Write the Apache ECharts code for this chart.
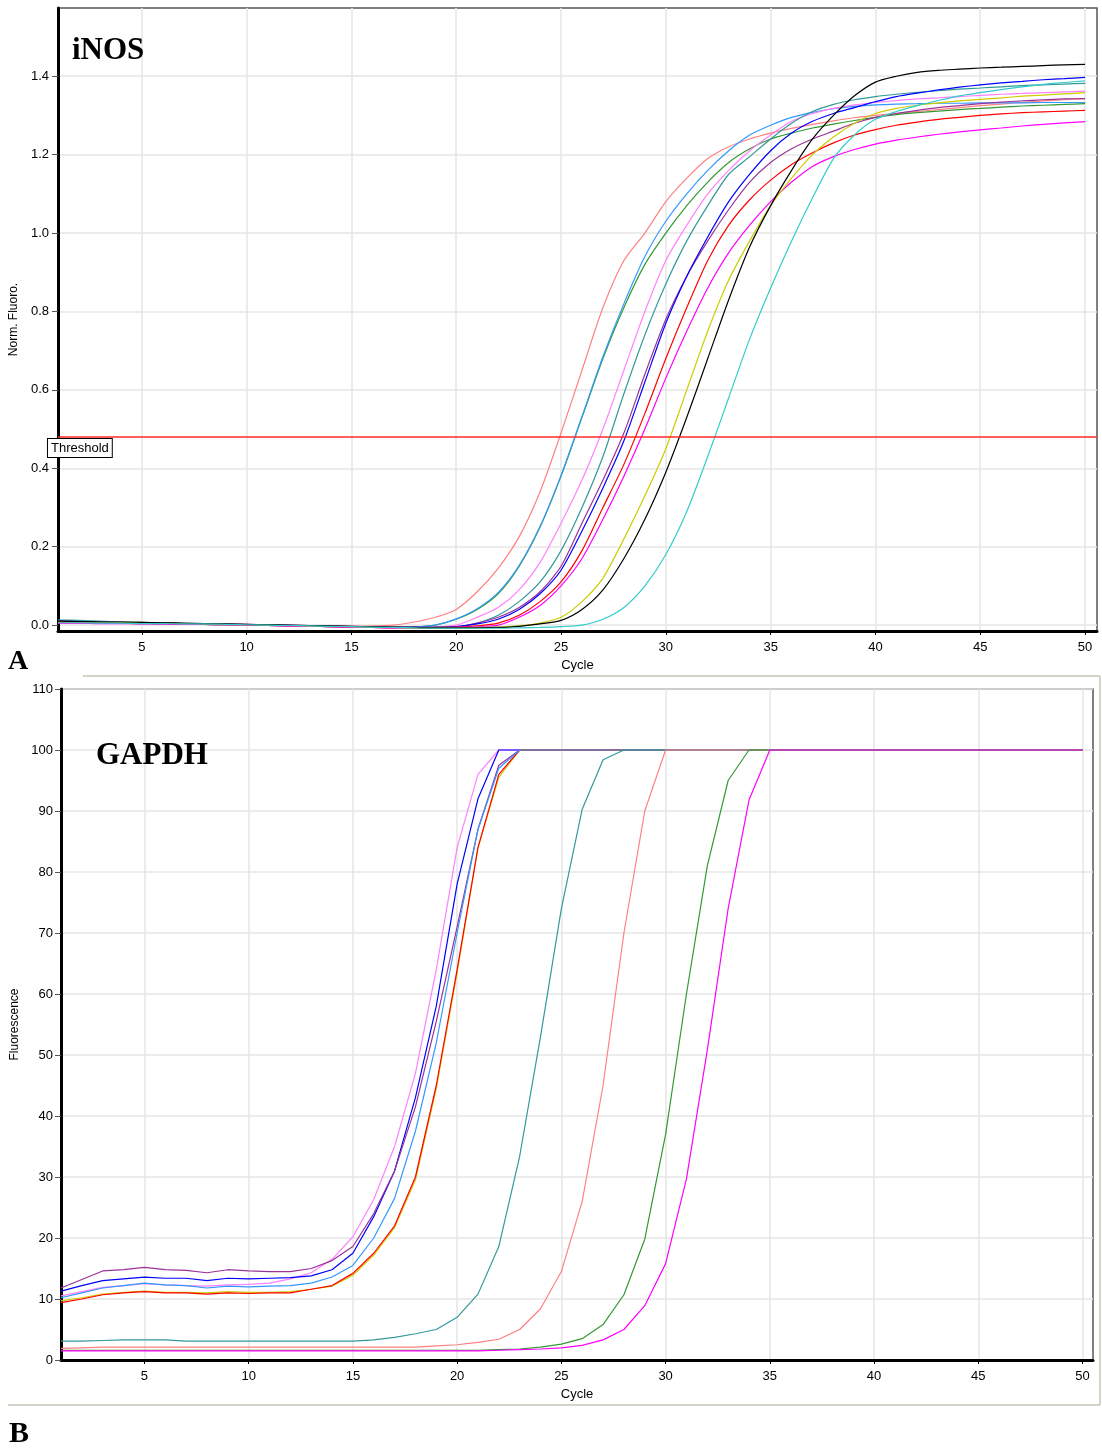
<!DOCTYPE html>
<html>
<head>
<meta charset="utf-8">
<title>iNOS / GAPDH amplification curves</title>
<script src="https://cdn.jsdelivr.net/npm/echarts@6/dist/echarts.min.js"></script>
<style>
  html, body { margin: 0; padding: 0; background: #fff; }
  #chart { width: 1102px; height: 1450px; }
</style>
</head>
<body>
<div id="chart"></div>
<script>
// x: PCR cycle number
const cycles = [1,2,3,4,5,6,7,8,9,10,11,12,13,14,15,16,17,18,19,20,
  21,22,23,24,25,26,27,28,29,30,31,32,33,34,35,36,37,38,39,40,
  41,42,43,44,45,46,47,48,49,50];
const xTicks = [5,10,15,20,25,30,35,40,45,50];
const inosTicks = [0,0.2,0.4,0.6,0.8,1.0,1.2,1.4];
const threshold = 0.48;

// panel A - iNOS, normalised fluorescence per cycle
const inosSalmon = [0.012,0.010,0.009,0.008,0.007,0.005,0.004,0.003,0.002,0.001,
  0.000,-0.001,-0.002,-0.003,-0.003,-0.002,0.000,0.008,0.020,0.040,
  0.085,0.145,0.225,0.340,0.490,0.650,0.810,0.930,1.000,1.080,
  1.140,1.190,1.220,1.240,1.255,1.267,1.277,1.286,1.294,1.300,
  1.305,1.310,1.315,1.320,1.325,1.329,1.333,1.337,1.340,1.343];
const inosGreen = [0.008,0.007,0.006,0.006,0.005,0.004,0.003,0.002,0.001,0.000,
  -0.001,-0.002,-0.003,-0.004,-0.005,-0.006,-0.006,-0.005,0.000,0.015,
  0.040,0.080,0.150,0.250,0.380,0.530,0.680,0.810,0.920,1.000,
  1.070,1.130,1.180,1.215,1.240,1.255,1.268,1.278,1.287,1.295,
  1.302,1.307,1.311,1.315,1.318,1.321,1.324,1.326,1.328,1.330];
const inosDodger = [0.009,0.008,0.007,0.006,0.005,0.004,0.003,0.002,0.001,0.000,
  -0.001,-0.002,-0.003,-0.004,-0.005,-0.005,-0.006,-0.005,0.000,0.016,
  0.042,0.083,0.152,0.252,0.382,0.532,0.685,0.820,0.940,1.030,
  1.100,1.160,1.210,1.250,1.275,1.295,1.308,1.317,1.323,1.327,
  1.329,1.330,1.331,1.331,1.332,1.332,1.332,1.333,1.333,1.333];
const inosViolet = [0.006,0.006,0.005,0.005,0.004,0.003,0.003,0.002,0.001,0.000,
  -0.001,-0.002,-0.003,-0.004,-0.005,-0.006,-0.006,-0.006,-0.005,0.000,
  0.020,0.045,0.090,0.160,0.260,0.370,0.500,0.650,0.800,0.930,
  1.020,1.100,1.160,1.210,1.250,1.285,1.305,1.318,1.327,1.333,
  1.338,1.342,1.345,1.348,1.351,1.354,1.356,1.358,1.360,1.362];
const inosTeal = [0.013,0.012,0.010,0.008,0.007,0.006,0.004,0.003,0.002,0.001,
  0.000,-0.001,-0.002,-0.003,-0.004,-0.005,-0.006,-0.006,-0.006,-0.005,
  0.005,0.025,0.060,0.110,0.190,0.300,0.430,0.590,0.740,0.870,
  0.980,1.070,1.150,1.195,1.240,1.280,1.310,1.328,1.340,1.348,
  1.354,1.359,1.363,1.367,1.370,1.373,1.376,1.378,1.380,1.382];
const inosPurple = [0.008,0.008,0.007,0.006,0.005,0.004,0.004,0.003,0.003,0.002,
  0.001,0.000,-0.001,-0.002,-0.003,-0.004,-0.005,-0.006,-0.006,-0.005,
  0.005,0.020,0.045,0.085,0.150,0.260,0.370,0.490,0.640,0.780,
  0.890,0.980,1.060,1.130,1.180,1.215,1.240,1.260,1.280,1.295,
  1.305,1.313,1.320,1.325,1.330,1.334,1.337,1.340,1.342,1.343];
const inosBlue = [0.010,0.009,0.008,0.007,0.006,0.005,0.004,0.003,0.002,0.001,
  0.000,-0.001,-0.002,-0.003,-0.004,-0.005,-0.006,-0.006,-0.006,-0.004,
  0.003,0.015,0.040,0.080,0.140,0.240,0.350,0.470,0.620,0.770,
  0.890,0.990,1.080,1.150,1.210,1.255,1.285,1.305,1.320,1.335,
  1.348,1.357,1.365,1.372,1.378,1.383,1.387,1.391,1.394,1.397];
const inosRed = [0.007,0.006,0.006,0.005,0.004,0.004,0.003,0.002,0.001,0.000,
  -0.001,-0.002,-0.003,-0.004,-0.005,-0.006,-0.007,-0.007,-0.006,-0.005,
  -0.002,0.005,0.025,0.060,0.110,0.190,0.300,0.410,0.540,0.680,
  0.810,0.930,1.020,1.085,1.135,1.175,1.205,1.230,1.250,1.264,
  1.275,1.283,1.290,1.295,1.300,1.304,1.307,1.309,1.311,1.313];
const inosMagenta = [0.005,0.005,0.004,0.004,0.003,0.003,0.002,0.002,0.001,0.000,
  -0.001,-0.002,-0.003,-0.004,-0.005,-0.006,-0.007,-0.007,-0.007,-0.006,
  -0.004,0.000,0.020,0.050,0.100,0.170,0.270,0.380,0.500,0.630,
  0.750,0.860,0.950,1.020,1.080,1.130,1.170,1.195,1.213,1.227,
  1.237,1.245,1.252,1.258,1.263,1.268,1.273,1.277,1.281,1.284];
const inosYellow = [0.009,0.008,0.007,0.007,0.006,0.005,0.004,0.003,0.002,0.001,
  0.000,-0.001,-0.002,-0.003,-0.004,-0.005,-0.006,-0.007,-0.007,-0.007,
  -0.006,-0.005,-0.002,0.005,0.020,0.060,0.120,0.220,0.330,0.450,
  0.600,0.750,0.880,0.980,1.070,1.140,1.200,1.245,1.280,1.305,
  1.318,1.326,1.332,1.337,1.341,1.345,1.349,1.352,1.355,1.358];
const inosBlack = [0.010,0.009,0.008,0.008,0.007,0.006,0.005,0.004,0.003,0.002,
  0.001,0.000,-0.001,-0.002,-0.003,-0.004,-0.005,-0.006,-0.007,-0.007,
  -0.007,-0.006,-0.003,0.003,0.012,0.040,0.090,0.170,0.270,0.390,
  0.530,0.680,0.830,0.965,1.070,1.160,1.240,1.300,1.350,1.385,
  1.400,1.410,1.415,1.418,1.421,1.423,1.425,1.427,1.429,1.430];
const inosCyan = [0.006,0.006,0.005,0.005,0.004,0.004,0.003,0.003,0.002,0.001,
  0.000,-0.001,-0.002,-0.003,-0.004,-0.005,-0.006,-0.007,-0.008,-0.008,
  -0.008,-0.008,-0.007,-0.006,-0.004,0.000,0.015,0.045,0.100,0.180,
  0.290,0.430,0.580,0.730,0.860,0.980,1.090,1.190,1.250,1.290,
  1.310,1.325,1.338,1.350,1.358,1.366,1.373,1.379,1.384,1.388];

// panel B - GAPDH, raw fluorescence per cycle
const gapViolet = [10.5,11.2,11.9,12.2,12.5,12.3,12.2,12.1,12.3,12.4,
  12.6,13.3,14.3,16.5,20.2,26.3,35.0,47.0,64.0,84.0,
  96.0,100,100,100,100,100,100,100,100,100,
  100,100,100,100,100,100,100,100,100,100,
  100,100,100,100,100,100,100,100,100,100];
const gapBlue = [11.3,12.2,13.0,13.3,13.6,13.4,13.4,13.0,13.4,13.3,
  13.4,13.5,13.8,14.8,17.5,23.5,31.0,43.0,58.0,78.0,
  92.0,100,100,100,100,100,100,100,100,100,
  100,100,100,100,100,100,100,100,100,100,
  100,100,100,100,100,100,100,100,100,100];
const gapPurple = [11.8,13.2,14.6,14.8,15.2,14.8,14.7,14.3,14.8,14.6,
  14.5,14.5,15.0,16.3,18.6,24.0,31.0,41.5,55.5,71.0,
  87.0,97.5,100,100,100,100,100,100,100,100,
  100,100,100,100,100,100,100,100,100,100,
  100,100,100,100,100,100,100,100,100,100];
const gapDodger = [10.2,11.0,11.8,12.2,12.6,12.3,12.2,11.8,12.1,12.0,
  12.1,12.2,12.6,13.6,15.5,20.0,26.5,37.5,52.0,70.0,
  87.0,97.0,100,100,100,100,100,100,100,100,
  100,100,100,100,100,100,100,100,100,100,
  100,100,100,100,100,100,100,100,100,100];
const gapRed = [9.4,10.0,10.7,11.0,11.2,11.0,11.0,10.8,11.0,10.9,
  11.0,11.0,11.6,12.2,14.2,17.5,22.0,30.0,45.0,64.0,
  84.0,96.0,100,100,100,100,100,100,100,100,
  100,100,100,100,100,100,100,100,100,100,
  100,100,100,100,100,100,100,100,100,100];
const gapYellow = [9.7,10.2,10.8,11.1,11.3,11.1,11.1,11.0,11.2,11.1,
  11.1,11.2,11.6,12.1,13.9,17.2,21.7,29.5,44.5,63.5,
  84.0,95.5,100,100,100,100,100,100,100,100,
  100,100,100,100,100,100,100,100,100,100,
  100,100,100,100,100,100,100,100,100,100];
const gapTeal = [3.1,3.1,3.2,3.3,3.3,3.3,3.1,3.1,3.1,3.1,
  3.1,3.1,3.1,3.1,3.1,3.3,3.7,4.3,5.0,7.0,
  10.8,18.6,33.4,53.0,74.0,90.3,98.4,100,100,100,
  100,100,100,100,100,100,100,100,100,100,
  100,100,100,100,100,100,100,100,100,100];
const gapSalmon = [1.9,2.0,2.1,2.1,2.1,2.1,2.1,2.1,2.1,2.1,
  2.1,2.1,2.1,2.1,2.1,2.1,2.1,2.1,2.3,2.5,
  2.9,3.4,5.0,8.4,14.5,26.0,45.0,70.0,90.0,100,
  100,100,100,100,100,100,100,100,100,100,
  100,100,100,100,100,100,100,100,100,100];
const gapGreen = [1.6,1.6,1.6,1.6,1.6,1.6,1.6,1.6,1.6,1.6,
  1.6,1.6,1.6,1.6,1.6,1.6,1.6,1.6,1.6,1.6,
  1.6,1.7,1.8,2.1,2.6,3.5,5.8,10.7,19.8,37.0,
  60.0,81.0,95.0,100,100,100,100,100,100,100,
  100,100,100,100,100,100,100,100,100,100];
const gapMagenta = [1.5,1.5,1.5,1.5,1.5,1.5,1.5,1.5,1.5,1.5,
  1.5,1.5,1.5,1.5,1.5,1.5,1.5,1.5,1.5,1.5,
  1.5,1.6,1.7,1.8,2.0,2.4,3.3,5.0,8.9,15.8,
  29.7,50.8,74.0,91.8,100,100,100,100,100,100,
  100,100,100,100,100,100,100,100,100,100];

const sans = 'Liberation Sans, Arial, sans-serif';
const serif = 'Liberation Serif, Times New Roman, serif';

function curve(name, color, values, idx, smooth) {
  return {
    name: name,
    type: 'line',
    xAxisIndex: idx,
    yAxisIndex: idx,
    data: values.map((v, i) => [cycles[i], v]),
    symbol: 'none',
    showSymbol: false,
    smooth: smooth ? 0.25 : false,
    lineStyle: { color: color, width: 1.2 },
    itemStyle: { color: color },
    silent: true,
    animation: false
  };
}

function cycleAxis(gi, max) {
  return {
    type: 'value', gridIndex: gi, min: 1, max: max,
    name: 'Cycle', nameLocation: 'middle', nameGap: 28,
    nameTextStyle: { fontFamily: sans, fontSize: 13, color: '#000' },
    axisLine: { show: true, onZero: false, lineStyle: { color: '#000', width: 3 } },
    axisTick: { show: true, customValues: xTicks, length: 4, lineStyle: { color: '#000' } },
    axisLabel: { customValues: xTicks, fontFamily: sans, fontSize: 13, color: '#000', margin: 10 },
    splitLine: { show: true, lineStyle: { color: '#e6e6e6', width: 1.5 } }
  };
}

const inosSeries = [
  curve('s1', '#ff8080', inosSalmon, 0, true),
  curve('s2', '#339933', inosGreen, 0, true),
  curve('s3', '#3399ff', inosDodger, 0, true),
  curve('s4', '#ff80ff', inosViolet, 0, true),
  curve('s5', '#339999', inosTeal, 0, true),
  curve('s6', '#993399', inosPurple, 0, true),
  curve('s7', '#0000ff', inosBlue, 0, true),
  curve('s8', '#ff0000', inosRed, 0, true),
  curve('s9', '#ff00ff', inosMagenta, 0, true),
  curve('s10', '#cccc00', inosYellow, 0, true),
  curve('s11', '#000000', inosBlack, 0, true),
  curve('s12', '#33cccc', inosCyan, 0, true)
];
inosSeries[0].markLine = {
  silent: true,
  symbol: 'none',
  animation: false,
  lineStyle: { color: '#ff2a2a', width: 1.5, type: 'solid' },
  label: {
    show: true, position: 'insideStartBottom', formatter: 'Threshold',
    distance: [-10, 2], fontFamily: sans, fontSize: 13, color: '#000',
    backgroundColor: '#fff', borderColor: '#000', borderWidth: 1, padding: [3, 3, 2, 3]
  },
  data: [{ yAxis: threshold }]
};

const gapSeries = [
  curve('g1', '#ff80ff', gapViolet, 1, false),
  curve('g2', '#0000ff', gapBlue, 1, false),
  curve('g3', '#993399', gapPurple, 1, false),
  curve('g4', '#cccc00', gapYellow, 1, false),
  curve('g5', '#ff0000', gapRed, 1, false),
  curve('g6', '#3399ff', gapDodger, 1, false),
  curve('g7', '#339999', gapTeal, 1, false),
  curve('g8', '#ff8080', gapSalmon, 1, false),
  curve('g9', '#339933', gapGreen, 1, false),
  curve('g10', '#ff00ff', gapMagenta, 1, false)
];

const chart = echarts.init(document.getElementById('chart'));
chart.setOption({
  backgroundColor: '#fff',
  animation: false,
  grid: [
    { left: 56, top: 8, width: 1041, height: 623, show: true, borderColor: '#555', borderWidth: 1.5, backgroundColor: '#fff' },
    { left: 61, top: 689, width: 1032, height: 671, show: true, borderColor: '#555', borderWidth: 1.5, backgroundColor: '#fff' }
  ],
  xAxis: [cycleAxis(0, 50.57), cycleAxis(1, 50.5)],
  yAxis: [
    {
      type: 'value', gridIndex: 0, min: -0.015, max: 1.574,
      name: 'Norm. Fluoro.', nameLocation: 'middle', nameGap: 27,
      nameTextStyle: { fontFamily: sans, fontSize: 12, color: '#000' },
      axisLine: { show: true, onZero: false, lineStyle: { color: '#000', width: 3 } },
      axisTick: { show: true, customValues: inosTicks, length: 6, lineStyle: { color: '#555' } },
      axisLabel: { customValues: inosTicks, formatter: v => v.toFixed(1), fontFamily: sans, fontSize: 13, color: '#000', margin: 9 },
      splitLine: { show: true, lineStyle: { color: '#e6e6e6', width: 1.5 } }
    },
    {
      type: 'value', gridIndex: 1, min: 0, max: 110, interval: 10,
      name: 'Fluorescence', nameLocation: 'middle', nameGap: 29,
      nameTextStyle: { fontFamily: sans, fontSize: 12, color: '#000' },
      axisLine: { show: true, onZero: false, lineStyle: { color: '#000', width: 3 } },
      axisTick: { show: true, length: 6, lineStyle: { color: '#555' } },
      axisLabel: { fontFamily: sans, fontSize: 13, color: '#000', margin: 8 },
      splitLine: { show: true, lineStyle: { color: '#e6e6e6', width: 1.5 } }
    }
  ],
  graphic: [
    { type: 'text', left: 72, top: 35, z: 100, style: { text: 'iNOS', font: 'bold 31px ' + serif, fill: '#000' } },
    { type: 'text', left: 96, top: 740, z: 100, style: { text: 'GAPDH', font: 'bold 31px ' + serif, fill: '#000' } },
    { type: 'text', left: 8, top: 648, z: 100, style: { text: 'A', font: 'bold 28px ' + serif, fill: '#000' } },
    { type: 'text', left: 9, top: 1419, z: 100, style: { text: 'B', font: 'bold 30px ' + serif, fill: '#000' } },
    { type: 'line', z: 100, shape: { x1: 83, y1: 676, x2: 1100, y2: 676 }, style: { stroke: '#c9c4b6', lineWidth: 1.5 } },
    { type: 'line', z: 100, shape: { x1: 8, y1: 1405, x2: 1100, y2: 1405 }, style: { stroke: '#c9c4b6', lineWidth: 1.5 } },
    { type: 'line', z: 100, shape: { x1: 1100, y1: 676, x2: 1100, y2: 1405 }, style: { stroke: '#c9c4b6', lineWidth: 1.5 } }
  ],
  series: inosSeries.concat(gapSeries)
});
</script>
</body>
</html>
